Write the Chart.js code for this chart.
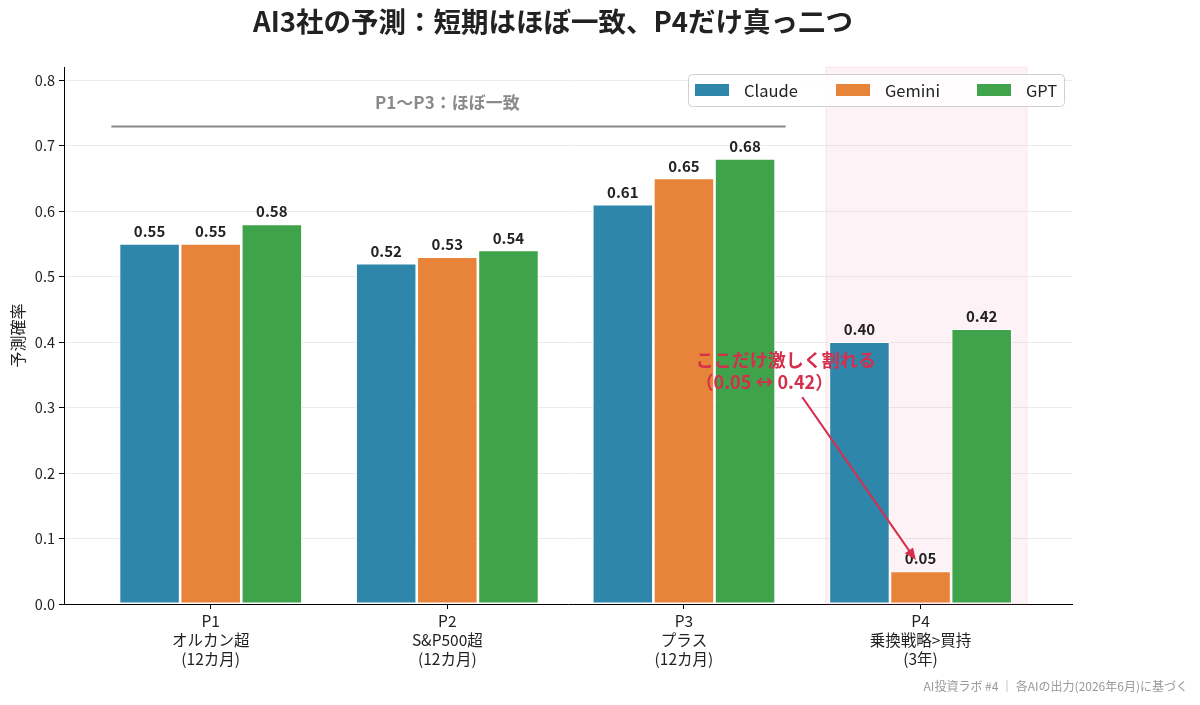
<!DOCTYPE html>
<html>
<head>
<meta charset="utf-8">
<script src="https://cdn.jsdelivr.net/npm/chart.js@4.4.1/dist/chart.umd.min.js"></script>
<style>
  html, body { margin: 0; padding: 0; background: #fff; }
  canvas { display: block; }
</style>
</head>
<body>
<canvas id="chart" width="1200" height="705"></canvas>
<script>
const FONT = '"Noto Sans CJK JP", "Noto Sans", sans-serif';

// データ
const categories = [
  ['P1', 'オルカン超', '(12カ月)'],
  ['P2', 'S&P500超', '(12カ月)'],
  ['P3', 'プラス', '(12カ月)'],
  ['P4', '乗換戦略>買持', '(3年)']
];
const seriesNames = ['Claude', 'Gemini', 'GPT'];
const claudeValues = [0.55, 0.52, 0.61, 0.40];
const geminiValues = [0.55, 0.53, 0.65, 0.05];
const gptValues = [0.58, 0.54, 0.68, 0.42];
const yTicks = [0, 0.1, 0.2, 0.3, 0.4, 0.5, 0.6, 0.7, 0.8];

// 注釈（データ座標）
const consensusLine = { from: -0.42, to: 2.43, y: 0.73, label: 'P1〜P3：ほぼ一致', labelX: 1.0, labelY: 0.765 };
const splitBand = { from: 2.6, to: 3.45 };
const splitNote = { lines: ['ここだけ激しく割れる', '（0.05 ↔ 0.42）'], x: [2.43, 2.34], y: [0.372, 0.339], arrowFrom: [2.50, 0.316], arrowTo: [2.98, 0.067] };

const colors = ['#2E86AB', '#E8833A', '#3EA34A'];
const allValues = [claudeValues, geminiValues, gptValues];

const datasets = seriesNames.map((name, i) => ({
  label: name,
  data: allValues[i].map((v, j) => ({ x: j, y: v })),
  backgroundColor: colors[i],
  borderColor: '#ffffff',
  borderWidth: 1,
  borderSkipped: false,
  categoryPercentage: 0.775,
  barPercentage: 0.99
}));

// 背景の帯・一致ライン
const bandPlugin = {
  id: 'band',
  beforeDatasetsDraw(chart) {
    const { ctx, chartArea, scales: { x, y } } = chart;
    ctx.save();
    ctx.fillStyle = 'rgba(240, 150, 175, 0.12)';
    ctx.strokeStyle = 'rgba(240, 150, 175, 0.18)';
    const x1 = x.getPixelForValue(splitBand.from);
    const x2 = x.getPixelForValue(splitBand.to);
    ctx.fillRect(x1, chartArea.top, x2 - x1, chartArea.bottom - chartArea.top);
    ctx.strokeRect(x1, chartArea.top, x2 - x1, chartArea.bottom - chartArea.top);

    ctx.strokeStyle = '#8a8a8a';
    ctx.lineWidth = 2;
    const ly = Math.round(y.getPixelForValue(consensusLine.y)) + 0.5;
    ctx.beginPath();
    ctx.moveTo(x.getPixelForValue(consensusLine.from), ly);
    ctx.lineTo(x.getPixelForValue(consensusLine.to), ly);
    ctx.stroke();

    ctx.fillStyle = '#8a8a8a';
    ctx.font = `bold 17px ${FONT}`;
    ctx.textAlign = 'center';
    ctx.textBaseline = 'middle';
    ctx.fillText(consensusLine.label, x.getPixelForValue(consensusLine.labelX), y.getPixelForValue(consensusLine.labelY));
    ctx.restore();
  }
};

// 値ラベル・注釈・凡例・タイトル
const overlayPlugin = {
  id: 'overlay',
  afterDatasetsDraw(chart) {
    const { ctx, scales: { x, y } } = chart;
    ctx.save();
    ctx.font = `bold 15px ${FONT}`;
    ctx.fillStyle = '#222';
    ctx.textAlign = 'center';
    ctx.textBaseline = 'bottom';
    chart.data.datasets.forEach((ds, i) => {
      chart.getDatasetMeta(i).data.forEach((bar, j) => {
        ctx.fillText(allValues[i][j].toFixed(2), bar.x, bar.y - 5);
      });
    });

    // 矢印
    const ax1 = x.getPixelForValue(splitNote.arrowFrom[0]);
    const ay1 = y.getPixelForValue(splitNote.arrowFrom[1]);
    const ax2 = x.getPixelForValue(splitNote.arrowTo[0]);
    const ay2 = y.getPixelForValue(splitNote.arrowTo[1]);
    const ang = Math.atan2(ay2 - ay1, ax2 - ax1);
    ctx.strokeStyle = '#D62F4E';
    ctx.fillStyle = '#D62F4E';
    ctx.lineWidth = 2;
    ctx.beginPath();
    ctx.moveTo(ax1, ay1);
    ctx.lineTo(ax2 - 8 * Math.cos(ang), ay2 - 8 * Math.sin(ang));
    ctx.stroke();
    ctx.beginPath();
    ctx.moveTo(ax2, ay2);
    ctx.lineTo(ax2 - 12 * Math.cos(ang) + 5 * Math.sin(ang), ay2 - 12 * Math.sin(ang) - 5 * Math.cos(ang));
    ctx.lineTo(ax2 - 12 * Math.cos(ang) - 5 * Math.sin(ang), ay2 - 12 * Math.sin(ang) + 5 * Math.cos(ang));
    ctx.closePath();
    ctx.fill();

    ctx.font = `bold 18px ${FONT}`;
    ctx.textBaseline = 'middle';
    splitNote.lines.forEach((t, k) => {
      ctx.fillText(t, x.getPixelForValue(splitNote.x[k]), y.getPixelForValue(splitNote.y[k]));
    });
    ctx.restore();
  },
  afterDraw(chart) {
    const { ctx, chartArea } = chart;
    ctx.save();
    // タイトル
    ctx.fillStyle = '#222';
    ctx.font = `bold 27.5px ${FONT}`;
    ctx.textAlign = 'center';
    ctx.textBaseline = 'middle';
    ctx.fillText('AI3社の予測：短期はほぼ一致、P4だけ真っ二つ', 553, 22);

    // Y軸タイトル
    ctx.save();
    ctx.translate(18, (chartArea.top + chartArea.bottom) / 2);
    ctx.rotate(-Math.PI / 2);
    ctx.font = `16px ${FONT}`;
    ctx.fillText('予測確率', 0, 0);
    ctx.restore();

    // 凡例
    const lx = 688, ly = 74, lw = 376, lh = 32;
    ctx.fillStyle = 'rgba(255,255,255,0.85)';
    ctx.strokeStyle = '#d0d0d0';
    ctx.lineWidth = 1;
    ctx.beginPath();
    ctx.roundRect(lx + 0.5, ly + 0.5, lw, lh, 4);
    ctx.fill();
    ctx.stroke();
    ctx.font = `16.5px ${FONT}`;
    ctx.textAlign = 'left';
    chart.data.datasets.forEach((ds, i) => {
      const sx = lx + 7 + i * 141;
      ctx.fillStyle = ds.backgroundColor;
      ctx.fillRect(sx, ly + 10, 34, 12);
      ctx.fillStyle = '#222';
      ctx.fillText(ds.label, sx + 49, ly + lh / 2 + 1);
    });

    // 出典
    ctx.fillStyle = '#999';
    ctx.font = `12px ${FONT}`;
    ctx.textAlign = 'right';
    ctx.fillText('AI投資ラボ #4 ｜ 各AIの出力(2026年6月)に基づく', 1188, 686);
    ctx.restore();
  }
};

new Chart(document.getElementById('chart').getContext('2d'), {
  type: 'bar',
  data: { datasets },
  options: {
    responsive: false,
    animation: false,
    maintainAspectRatio: false,
    layout: { padding: { top: 67, right: 128, bottom: 0, left: 0 } },
    plugins: {
      legend: { display: false },
      title: { display: false },
      tooltip: { enabled: false }
    },
    scales: {
      x: {
        type: 'linear',
        min: -0.62,
        max: 3.64,
        offset: false,
        afterBuildTicks(scale) {
          scale.ticks = categories.map((c, i) => ({ value: i }));
        },
        afterFit(scale) { scale.height = 101; },
        ticks: {
          autoSkip: false,
          maxRotation: 0,
          padding: 2,
          color: '#222',
          font: { family: FONT, size: 15.5, lineHeight: 1.25 },
          callback: (v) => categories[v]
        },
        grid: { offset: false, drawOnChartArea: false, drawTicks: true, tickLength: 5, tickColor: '#000' },
        border: { color: '#000', width: 1 }
      },
      y: {
        min: 0,
        max: 0.82,
        afterBuildTicks(scale) {
          scale.ticks = yTicks.map(v => ({ value: v }));
        },
        afterFit(scale) { scale.width = 64; },
        ticks: {
          padding: 4,
          color: '#222',
          font: { family: FONT, size: 14.5 },
          callback: (v) => v.toFixed(1)
        },
        grid: { color: '#ebebeb', tickColor: '#000', tickLength: 5 },
        border: { color: '#000', width: 1 }
      }
    }
  },
  plugins: [bandPlugin, overlayPlugin]
});
</script>
</body>
</html>
